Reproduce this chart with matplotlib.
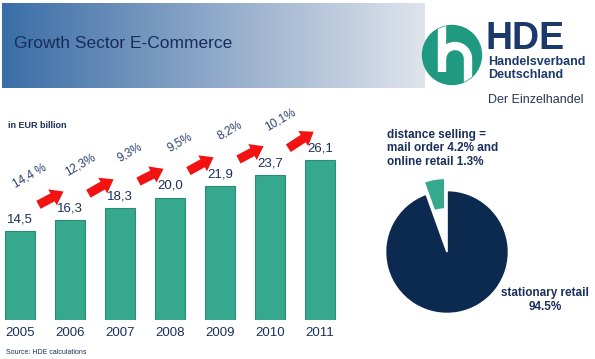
import numpy as np
import matplotlib.pyplot as plt
from matplotlib.colors import LinearSegmentedColormap
from matplotlib.patches import Circle, Arc

plt.rcParams['font.family'] = ['Liberation Sans', 'DejaVu Sans']

# data
years = ['2005', '2006', '2007', '2008', '2009', '2010', '2011']
sales = [14.5, 16.3, 18.3, 20.0, 21.9, 23.7, 26.1]
growth = ['14,4 %', '12,3%', '9,3%', '9,5%', '8,2%', '10,1%']
pie_labels = ['distance selling', 'stationary retail']
pie_shares = [5.5, 94.5]

navy = '#1b2f5c'
teal = '#36a88e'

W, H = 595, 359
fig = plt.figure(figsize=(W / 100, H / 100), dpi=100)

# header band with gradient
band = fig.add_axes([2 / W, 1 - 88 / H, 423 / W, 85 / H])
cmap = LinearSegmentedColormap.from_list('band', ['#3a6ea7', '#8fa9c9', '#dfe4ec'])
band.imshow(np.linspace(0, 1, 256)[None, :], cmap=cmap, aspect='auto')
band.axis('off')

# bar chart
ax = fig.add_axes([0, 1 - 320 / H, 340 / W, 210 / H])
x = np.arange(len(years))
ax.bar(x, sales, width=0.6, color=teal, edgecolor='#2b8c75', linewidth=0.8)
ax.set_xlim(-0.4, 6.4)
ax.set_ylim(0, 34.3)
for s in ax.spines.values():
    s.set_visible(False)
ax.set_yticks([])
ax.set_xticks(x, years)
ax.tick_params(axis='x', length=0, pad=5, labelsize=9.5, labelcolor=navy)

for i, v in enumerate(sales):
    ax.annotate(f'{v:.1f}'.replace('.', ','), (i, v), xytext=(0, 4),
                textcoords='offset points', ha='center', va='bottom',
                fontsize=9.5, color=navy)

for i, g in enumerate(growth):
    ax.annotate('', xy=(i + 0.92, sales[i + 1] + 4.9), xytext=(i + 0.32, sales[i] + 4.1),
                arrowprops=dict(arrowstyle='simple,head_width=1.3,head_length=0.9,tail_width=0.65',
                                color='#f21212', lw=0))
    ax.text(i + 0.2, sales[i] + 9.0, g, rotation=30, ha='center', va='center',
            fontsize=8.5, color='#2d4170')

# pie chart
pax = fig.add_axes([(447 - 80) / W, 1 - (252 + 80) / H, 160 / W, 160 / H])
wedges, _ = pax.pie(pie_shares, colors=[teal, '#0c2a50'], startangle=90,
                    counterclock=True, explode=[0.2, 0],
                    wedgeprops=dict(edgecolor='white', linewidth=1.2))
wedges[0].set_width(0.5)
pax.set_xlim(-1.3, 1.3)
pax.set_ylim(-1.3, 1.3)
pax.set_aspect('equal')

# overlay for free text and logo
ov = fig.add_axes([0, 0, 1, 1])
ov.set_xlim(0, W)
ov.set_ylim(H, 0)
ov.axis('off')

ov.text(14, 44, 'Growth Sector E-Commerce', fontsize=12.5, color='#172c5c', va='center')
ov.text(8, 126, 'in EUR billion', fontsize=6.5, fontweight='bold', color=navy, va='center')
ov.text(6, 352, 'Source: HDE calculations', fontsize=5, color=navy, va='center')

ov.text(387, 129, 'distance selling =\nmail order 4.2% and\nonline retail 1.3%',
        fontsize=8.5, fontweight='bold', color=navy, va='top', ha='left', linespacing=1.15)
ov.text(545, 300, 'stationary retail\n94.5%', fontsize=8.5, fontweight='bold',
        color=navy, va='center', ha='center', linespacing=1.15)

# logo
logo_c = Circle((452, 55), 29.5, color='#1f9a80', zorder=2)
ov.add_patch(logo_c)
stem, = ov.plot([442, 442], [24, 72], color='white', lw=6, zorder=3, solid_capstyle='butt')
arc = Arc((455, 59), 26, 26, theta1=180, theta2=360, color='white', lw=6, zorder=3)
ov.add_patch(arc)
leg, = ov.plot([468, 468], [59, 90], color='white', lw=6, zorder=3, solid_capstyle='butt')
for art in (stem, arc, leg):
    art.set_clip_path(logo_c)

ov.text(486, 39, 'HDE', fontsize=27, fontweight='bold', color='#1b3a6b', va='center', ha='left')
ov.text(488, 62, 'Handelsverband', fontsize=9, fontweight='bold', color='#1b3a6b', va='center')
ov.text(488, 75, 'Deutschland', fontsize=9, fontweight='bold', color='#1b3a6b', va='center')
ov.text(488, 100, 'Der Einzelhandel', fontsize=9, color='#2a3550', va='center')

fig.savefig('out.png', dpi=100)
